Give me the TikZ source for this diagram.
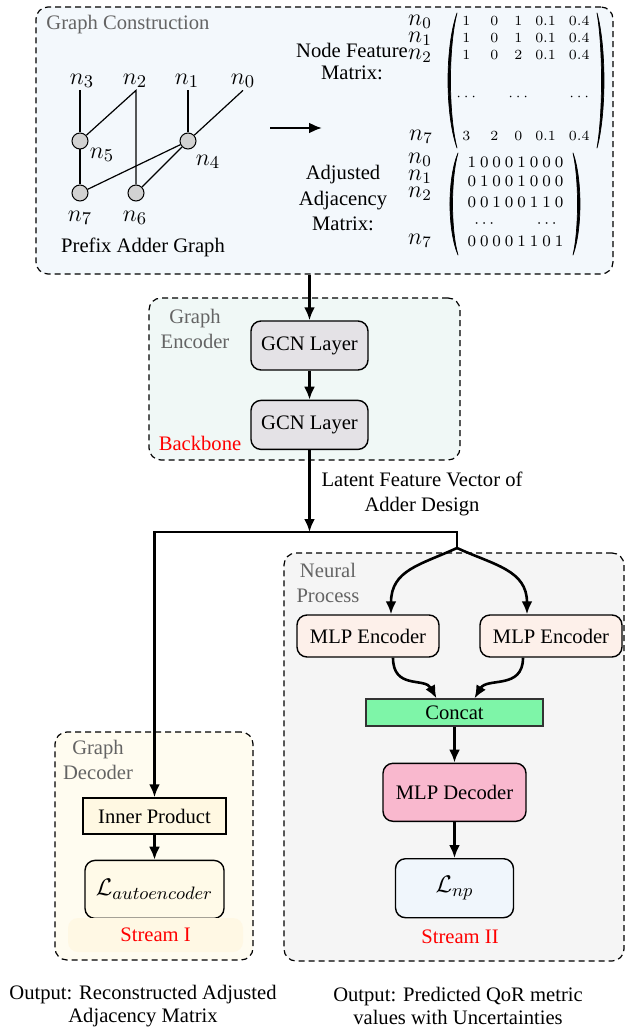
\documentclass[tikz,border=0pt]{standalone}
\usepackage{fontspec}
\setmainfont{Liberation Serif}
\usetikzlibrary{arrows.meta,positioning}
\definecolor{gcfill}{RGB}{243,248,252}
\definecolor{encfill}{RGB}{240,248,246}
\definecolor{decfill}{RGB}{255,252,240}
\definecolor{npfill}{RGB}{245,245,245}
\definecolor{gcnfill}{RGB}{228,226,230}
\definecolor{mlpencfill}{RGB}{253,240,234}
\definecolor{concatfill}{RGB}{126,245,168}
\definecolor{mlpdecfill}{RGB}{249,184,206}
\definecolor{lossfill}{RGB}{240,246,252}
\definecolor{innerfill}{RGB}{255,248,226}
\definecolor{aefill}{RGB}{255,250,232}
\definecolor{streamfill}{RGB}{255,248,228}
\definecolor{labelgray}{RGB}{100,100,100}
\definecolor{vertexfill}{RGB}{210,210,210}
\newcommand\diagfont{\fontsize{10.3}{12.5}\selectfont}
\newcommand\flatdots{\hbox to 0pt{\hss$\cdots$\hss}}
\tikzset{
group/.style={draw=black,dash pattern=on 3pt off 2pt,line width=0.6pt,rounded corners=6pt,inner sep=0pt},
grouplabel/.style={text=labelgray,font=\diagfont,align=center,inner sep=0pt},
block/.style={draw=black,line width=0.7pt,rounded corners=5pt,font=\diagfont,inner sep=0pt},
plainblock/.style={draw=black,line width=0.7pt,font=\diagfont,inner sep=0pt},
flow/.style={line width=1.3pt,-{Latex[length=6.5pt,width=5.5pt]}},
graphline/.style={line width=0.6pt},
vlabel/.style={font=\fontsize{12.5}{14}\selectfont,inner sep=1pt},
rowlabel/.style={font=\fontsize{11.5}{13}\selectfont,inner sep=0pt},
caption/.style={font=\diagfont,align=center,inner sep=0pt},
stream/.style={text=red,font=\diagfont,inner sep=0pt},
featmatrix/.style={inner sep=0pt,font=\fontsize{7}{8.3}\selectfont},
adjmatrix/.style={inner sep=0pt,font=\fontsize{8}{10}\selectfont},
bracket/.style={fill=black,draw=black,line width=0.35pt,line join=round},
}
\tikzstyle{vertex} = [circle,draw=black,fill=vertexfill,line width=0.5pt,minimum size=8pt,inner sep=0pt]
\begin{document}
\begin{tikzpicture}[x=0.5pt,y=-0.5pt]
\useasboundingbox (0,0) rectangle (626,1032);
\node[group,fill=gcfill,minimum width=288.5pt,minimum height=133.5pt] (gcbox) at (324.5,140.5) {};
\node[group,fill=encfill,minimum width=155.5pt,minimum height=81pt] (encbox) at (304.5,379) {};
\node[group,fill=decfill,minimum width=99pt,minimum height=114pt] (decbox) at (154,846) {};
\node[group,fill=npfill,minimum width=170pt,minimum height=204pt] (npbox) at (454,757) {};
\node[grouplabel,anchor=west] (gclabel) at (46,25) {Graph Construction};
\node[grouplabel] (enclabel) at (195,329) {Graph\\Encoder};
\node[grouplabel] (declabel) at (98,760) {Graph\\Decoder};
\node[grouplabel] (nplabel) at (328,583) {Neural\\Process};

\node[vlabel] (l3) at (82,81) {$n_3$};
\node[vlabel] (l2) at (135,81) {$n_2$};
\node[vlabel] (l1) at (187,81) {$n_1$};
\node[vlabel] (l0) at (243,81) {$n_0$};
\node[vertex] (v5) at (80,141) {};
\node[vertex] (v4) at (188,141) {};
\node[vertex] (v7) at (80,193) {};
\node[vertex] (v6) at (136,193) {};
\node[vlabel] (l5) at (102,155) {$n_5$};
\node[vlabel] (l4) at (208,162) {$n_4$};
\node[vlabel] (l7) at (80,218) {$n_7$};
\node[vlabel] (l6) at (135,218) {$n_6$};
\node[caption] (graphcap) at (143,247) {Prefix Adder Graph};
\draw[graphline] (l3.south -| v5) -- (v5);
\draw[graphline] (v5) -- (l2.south -| v6) -- (v6);
\draw[graphline] (l1.south -| v4) -- (v4);
\draw[graphline] (l0.south) -- (v4);
\draw[graphline] (v5) -- (v7);
\draw[graphline] (v7) -- (v4) -- (v6);

\coordinate (arrowtail) at (270,128);
\coordinate (arrowhead) at (322,128);
\draw[flow,line width=1.1pt] (arrowtail) -- (arrowhead);

\node[caption,font=\fontsize{10.3}{11}\selectfont] (featlabel) at (352,62) {Node Feature\\Matrix:};
\node[caption] (adjlabel) at (343,198) {Adjusted\\Adjacency\\Matrix:};
\node[rowlabel] (fl0) at (420,22) {$n_0$};
\node[rowlabel] (fl1) at (420,39) {$n_1$};
\node[rowlabel] (fl2) at (420,56) {$n_2$};
\node[rowlabel] (fl7) at (421,137) {$n_7$};
\node[rowlabel] (al0) at (420,160) {$n_0$};
\node[rowlabel] (al1) at (420,177) {$n_1$};
\node[rowlabel] (al2) at (420,194) {$n_2$};
\node[rowlabel] (al7) at (420,241) {$n_7$};
\node[featmatrix] (featmat) at (526,80) {$\begin{array}{@{}c@{\hspace{10pt}}c@{\hspace{8pt}}c@{\hspace{6.5pt}}c@{\hspace{6.5pt}}c@{}}
1 & 0 & 1 & 0.1 & 0.4 \\
1 & 0 & 1 & 0.1 & 0.4 \\
1 & 0 & 2 & 0.1 & 0.4 \\[12.5pt]
\flatdots & & \flatdots & & \flatdots \\[11.7pt]
3 & 2 & 0 & 0.1 & 0.4
\end{array}$};
\node[adjmatrix] (adjmat) at (515.5,203) {\arraycolsep=1pt$\begin{array}{@{}cccccccc@{}}
1&0&0&0&1&0&0&0\\
0&1&0&0&1&0&0&0\\
0&0&1&0&0&1&1&0\\
&\flatdots&&&&&\flatdots&\\
0&0&0&0&1&1&0&1
\end{array}$};
\fill[bracket] (457,13) .. controls (445,47) and (445,114) .. (457,148) .. controls (448.3,114) and (448.3,47) .. cycle;
\fill[bracket] (597,13) .. controls (606.3,47) and (606.3,114) .. (597,148) .. controls (603,114) and (603,47) .. cycle;
\fill[bracket] (458,153) .. controls (447.3,178.5) and (447.3,229.5) .. (458,255) .. controls (450.7,229.5) and (450.7,178.5) .. cycle;
\fill[bracket] (573,153) .. controls (582.3,178.5) and (582.3,229.5) .. (573,255) .. controls (579,229.5) and (579,178.5) .. cycle;

\node[block,fill=gcnfill,minimum width=58.5pt,minimum height=24.5pt] (gcn1) at (309.5,345.5) {GCN Layer};
\node[block,fill=gcnfill,minimum width=58.5pt,minimum height=24.5pt,below=14.5pt of gcn1] (gcn2) {GCN Layer};
\node[stream] (backbone) at (200,443) {Backbone};
\node[caption] (latent) at (422,494) {Latent Feature Vector of\\Adder Design};

\node[block,fill=mlpencfill,minimum width=71pt,minimum height=21pt] (mlpencL) at (368,636) {MLP Encoder};
\node[block,fill=mlpencfill,minimum width=71pt,minimum height=21pt] (mlpencR) at (551,636) {MLP Encoder};
\node[plainblock,fill=concatfill,draw=black!80,line width=0.6pt,minimum width=88.5pt,minimum height=13.5pt] (concat) at (454.5,712.5) {Concat};
\node[block,fill=mlpdecfill,minimum width=71.5pt,minimum height=29pt,below=18pt of concat] (mlpdec) {MLP Decoder};
\node[block,fill=lossfill,minimum width=59pt,minimum height=29.5pt,below=18pt of mlpdec,font=\fontsize{13}{15}\selectfont] (lnp) {$\mathcal{L}_{np}$};
\node[stream] (streamII) at (460,937) {Stream II};

\node[plainblock,fill=innerfill,minimum width=71.5pt,minimum height=18pt] (inner) at (154.5,816) {Inner Product};
\node[block,fill=aefill,minimum width=69.5pt,minimum height=29pt,below=12.5pt of inner,font=\fontsize{13}{15}\selectfont] (ae) {$\mathcal{L}_{autoencoder}$};
\node[stream,fill=streamfill,rounded corners=5pt,minimum width=87.5pt,minimum height=17pt] (streamI) at (155.5,935) {Stream I};

\coordinate (splitL) at (154.5,532);
\coordinate (splitR) at (457,532);
\coordinate (fork) at (457,548);
\draw[flow] (gcbox.south -| gcn1.north) -- (gcn1.north);
\draw[flow] (gcn1) -- (gcn2);
\draw[flow] (gcn2.south) -- (gcn2.south |- splitR);
\draw[flow] (fork) -- (splitR) -- (splitL) -- (inner.north);
\draw[flow] (fork) .. controls (420,565) and (391,570) .. ([xshift=11.5pt]mlpencL.north);
\draw[flow] (fork) .. controls (494,565) and (527,570) .. ([xshift=-12pt]mlpencR.north);
\draw[flow] ([xshift=12.5pt]mlpencL.south) .. controls (393,690) and (425,677) .. ([xshift=-9pt]concat.north);
\draw[flow] ([xshift=-14pt]mlpencR.south) .. controls (523,690) and (487,677) .. ([xshift=10pt]concat.north);
\draw[flow] (concat) -- (mlpdec);
\draw[flow] (mlpdec) -- (lnp);
\draw[flow] (inner) -- (ae);

\node[caption,font=\fontsize{10.3}{11.5}\selectfont] (outL) at (143,1006) {Output: Reconstructed Adjusted\\Adjacency Matrix};
\node[caption,font=\fontsize{10.3}{11.5}\selectfont] (outR) at (458,1006) {Output: Predicted QoR metric\\values with Uncertainties};
\end{tikzpicture}
\end{document}
